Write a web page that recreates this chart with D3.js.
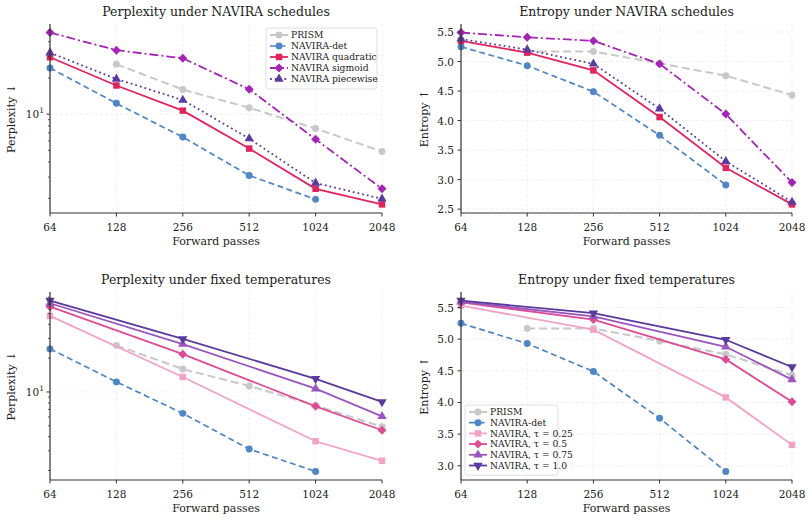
<!DOCTYPE html>
<html>
<head>
<meta charset="utf-8">
<script src="https://cdn.jsdelivr.net/npm/d3@7"></script>
<style>
  body { margin: 0; background: #fff; }
  svg { display: block; font-family: "DejaVu Serif", serif; }
</style>
</head>
<body>
<svg id="chart" width="810" height="523"></svg>
<script>
// x positions (forward passes)
const passes = [64, 128, 256, 512, 1024, 2048];
const prismPasses = [128, 256, 512, 1024, 2048];
const detPasses = [64, 128, 256, 512, 1024];
const tempPasses = [64, 256, 1024, 2048];

// NAVIRA schedules
const prismPpl = [26.0, 16.0, 11.3, 7.6, 4.9];
const detPpl = [24.2, 12.3, 6.45, 3.1, 1.96];
const quadPpl = [29.7, 17.3, 10.7, 5.18, 2.40, 1.78];
const sigPpl = [47.6, 34.0, 29.1, 16.1, 6.19, 2.40];
const piecePpl = [32.4, 19.6, 13.1, 6.27, 2.68, 1.98];

const prismEnt = [5.17, 5.17, 4.97, 4.76, 4.43];
const detEnt = [5.25, 4.93, 4.49, 3.75, 2.91];
const quadEnt = [5.35, 5.15, 4.85, 4.06, 3.20, 2.58];
const sigEnt = [5.49, 5.41, 5.35, 4.96, 4.11, 2.95];
const pieceEnt = [5.38, 5.20, 4.96, 4.20, 3.31, 2.62];

// fixed temperatures
const t025Ppl = [47.6, 13.6, 3.64, 2.44];
const t05Ppl = [57.5, 21.7, 7.45, 4.56];
const t075Ppl = [61.7, 26.7, 10.7, 6.07];
const t10Ppl = [65.2, 29.7, 13.1, 8.15];

const t025Ent = [5.53, 5.15, 4.08, 3.33];
const t05Ent = [5.58, 5.31, 4.68, 4.01];
const t075Ent = [5.59, 5.36, 4.88, 4.36];
const t10Ent = [5.61, 5.41, 4.99, 4.56];

const entTicksTop = [2.5, 3.0, 3.5, 4.0, 4.5, 5.0, 5.5];
const entTicksBottom = [3.0, 3.5, 4.0, 4.5, 5.0, 5.5];

// series styles
const S = {
  prism: { name: "PRISM", color: "#c8c8c8", dash: "8,4", shape: "circle", width: 2 },
  det: { name: "NAVIRA-det", color: "#4f86c6", dash: "6,3.5", shape: "circle", width: 1.7 },
  quad: { name: "NAVIRA quadratic", color: "#e0245e", dash: null, shape: "square", width: 1.8 },
  sig: { name: "NAVIRA sigmoid", color: "#a424b6", dash: "9,3,2,3", shape: "diamond", width: 1.8 },
  piece: { name: "NAVIRA piecewise", color: "#5c3b9e", dash: "1.8,3", shape: "triUp", width: 1.8 },
  t025: { name: "NAVIRA, τ = 0.25", color: "#f2a3c6", dash: null, shape: "square", width: 1.8 },
  t05: { name: "NAVIRA, τ = 0.5", color: "#dc4d95", dash: null, shape: "diamond", width: 1.8 },
  t075: { name: "NAVIRA, τ = 0.75", color: "#9b55bf", dash: null, shape: "triUp", width: 1.8 },
  t10: { name: "NAVIRA, τ = 1.0", color: "#5a3a9c", dash: null, shape: "triDown", width: 1.8 }
};

const svg = d3.select("#chart");

function symbolPath(shape) {
  if (shape === "circle") return { d: d3.symbol(d3.symbolCircle, 38)(), rot: 0 };
  if (shape === "square") return { d: d3.symbol(d3.symbolSquare, 42)(), rot: 0 };
  if (shape === "diamond") return { d: d3.symbol(d3.symbolSquare, 40)(), rot: 45 };
  if (shape === "triUp") return { d: d3.symbol(d3.symbolTriangle, 38)(), rot: 0 };
  return { d: d3.symbol(d3.symbolTriangle, 38)(), rot: 180 };
}

function padDomain(vals, log) {
  const f = log ? Math.log10 : (v) => v;
  const lo = f(d3.min(vals)), hi = f(d3.max(vals));
  const p = (hi - lo) * 0.05;
  return log ? [Math.pow(10, lo - p), Math.pow(10, hi + p)] : [lo - p, hi + p];
}

function drawPanel(cfg) {
  const g = svg.append("g");
  const x = d3.scaleLog().base(2).domain([64, 2048]).range([cfg.left, cfg.right]);
  const allVals = cfg.series.flatMap((s) => s.values);
  const y = (cfg.log ? d3.scaleLog() : d3.scaleLinear())
    .domain(padDomain(allVals, cfg.log))
    .range([cfg.bottom, cfg.top]);

  // grid
  const majorY = cfg.log ? [10] : cfg.yTicks;
  g.append("g").selectAll("line.gx").data(passes).enter().append("line")
    .attr("x1", (d) => x(d)).attr("x2", (d) => x(d))
    .attr("y1", cfg.top).attr("y2", cfg.bottom)
    .attr("stroke", "#ebebeb").attr("stroke-width", 0.8).attr("stroke-dasharray", "3,2");
  g.append("g").selectAll("line.gy").data(majorY).enter().append("line")
    .attr("x1", cfg.left).attr("x2", cfg.right)
    .attr("y1", (d) => y(d)).attr("y2", (d) => y(d))
    .attr("stroke", "#ebebeb").attr("stroke-width", 0.8).attr("stroke-dasharray", "3,2");

  // series
  cfg.series.forEach((s) => {
    const st = S[s.key];
    const pts = s.xs.map((xv, i) => [xv, s.values[i]]);
    const line = d3.line().x((d) => x(d[0])).y((d) => y(d[1]));
    g.append("path").attr("d", line(pts))
      .attr("fill", "none").attr("stroke", st.color).attr("stroke-width", st.width)
      .attr("stroke-dasharray", st.dash);
    const sym = symbolPath(st.shape);
    g.append("g").selectAll("path").data(pts).enter().append("path")
      .attr("d", sym.d)
      .attr("transform", (d) => `translate(${x(d[0])},${y(d[1])}) rotate(${sym.rot})`)
      .attr("fill", st.color);
  });

  // axes
  const ax = g.append("g").attr("stroke", "#333").attr("stroke-width", 1.2);
  ax.append("line").attr("x1", cfg.left).attr("x2", cfg.left).attr("y1", cfg.top).attr("y2", cfg.bottom);
  ax.append("line").attr("x1", cfg.left).attr("x2", cfg.right).attr("y1", cfg.bottom).attr("y2", cfg.bottom);

  g.append("g").selectAll("line").data(passes).enter().append("line")
    .attr("x1", (d) => x(d)).attr("x2", (d) => x(d))
    .attr("y1", cfg.bottom).attr("y2", cfg.bottom + 3.5)
    .attr("stroke", "#333").attr("stroke-width", 1);
  g.append("g").selectAll("text").data(passes).enter().append("text")
    .attr("x", (d) => x(d)).attr("y", cfg.bottom + 18)
    .attr("text-anchor", "middle").attr("font-size", 10.5).attr("fill", "#222")
    .text((d) => d);

  if (cfg.log) {
    const [lo, hi] = y.domain();
    const minor = [];
    for (let dec = 1; dec <= 100; dec *= 10) {
      for (let k = 1; k < 10; k++) {
        const v = k * dec;
        if (v >= lo && v <= hi && v !== 10) minor.push(v);
      }
    }
    g.append("g").selectAll("line").data(minor).enter().append("line")
      .attr("x1", cfg.left - 2).attr("x2", cfg.left)
      .attr("y1", (d) => y(d)).attr("y2", (d) => y(d))
      .attr("stroke", "#333").attr("stroke-width", 0.8);
    g.append("line").attr("x1", cfg.left - 3.5).attr("x2", cfg.left)
      .attr("y1", y(10)).attr("y2", y(10)).attr("stroke", "#333").attr("stroke-width", 1);
    const t = g.append("text").attr("x", cfg.left - 6).attr("y", y(10) + 4)
      .attr("text-anchor", "end").attr("font-size", 10.5).attr("fill", "#222");
    t.append("tspan").text("10");
    t.append("tspan").attr("dy", -5).attr("font-size", 7.5).text("1");
  } else {
    g.append("g").selectAll("line").data(cfg.yTicks).enter().append("line")
      .attr("x1", cfg.left - 3.5).attr("x2", cfg.left)
      .attr("y1", (d) => y(d)).attr("y2", (d) => y(d))
      .attr("stroke", "#333").attr("stroke-width", 1);
    g.append("g").selectAll("text").data(cfg.yTicks).enter().append("text")
      .attr("x", cfg.left - 7).attr("y", (d) => y(d) + 4)
      .attr("text-anchor", "end").attr("font-size", 10.5).attr("fill", "#222")
      .text((d) => d.toFixed(1));
  }

  // labels
  g.append("text").attr("x", (cfg.left + cfg.right) / 2).attr("y", cfg.top - 8)
    .attr("text-anchor", "middle").attr("font-size", 12.5).attr("fill", "#222").text(cfg.title);
  g.append("text").attr("x", (cfg.left + cfg.right) / 2).attr("y", cfg.bottom + 32)
    .attr("text-anchor", "middle").attr("font-size", 11).attr("fill", "#222").text("Forward passes");
  g.append("text")
    .attr("transform", `translate(${cfg.yLabelX},${(cfg.top + cfg.bottom) / 2}) rotate(-90)`)
    .attr("text-anchor", "middle").attr("font-size", 11).attr("fill", "#222").text(cfg.yLabel);

  if (cfg.legend) drawLegend(g, cfg.legend, cfg.series.map((s) => s.key));
}

function drawLegend(g, lg, keys) {
  const rowH = lg.rowH;
  const h = keys.length * rowH + 6;
  g.append("rect").attr("x", lg.x).attr("y", lg.y).attr("width", lg.w).attr("height", h)
    .attr("rx", 2.5).attr("fill", "rgba(255,255,255,0.85)").attr("stroke", "#d6d6d6").attr("stroke-width", 0.8);
  keys.forEach((k, i) => {
    const st = S[k];
    const cy = lg.y + 7 + i * rowH;
    g.append("line").attr("x1", lg.x + 4).attr("x2", lg.x + 22).attr("y1", cy).attr("y2", cy)
      .attr("stroke", st.color).attr("stroke-width", st.width).attr("stroke-dasharray", st.dash);
    const sym = symbolPath(st.shape);
    g.append("path").attr("d", sym.d)
      .attr("transform", `translate(${lg.x + 13},${cy}) rotate(${sym.rot})`).attr("fill", st.color);
    g.append("text").attr("x", lg.x + 25).attr("y", cy + 3.3)
      .attr("font-size", 9.2).attr("fill", "#222").text(st.name);
  });
}

drawPanel({
  left: 50, right: 382, top: 24, bottom: 213, log: true,
  title: "Perplexity under NAVIRA schedules", yLabel: "Perplexity ↓", yLabelX: 15,
  series: [
    { key: "prism", xs: prismPasses, values: prismPpl },
    { key: "det", xs: detPasses, values: detPpl },
    { key: "quad", xs: passes, values: quadPpl },
    { key: "sig", xs: passes, values: sigPpl },
    { key: "piece", xs: passes, values: piecePpl }
  ],
  legend: { x: 266, y: 28, w: 111, rowH: 11 }
});

drawPanel({
  left: 461, right: 792, top: 24, bottom: 213, log: false, yTicks: entTicksTop,
  title: "Entropy under NAVIRA schedules", yLabel: "Entropy ↑", yLabelX: 428,
  series: [
    { key: "prism", xs: prismPasses, values: prismEnt },
    { key: "det", xs: detPasses, values: detEnt },
    { key: "quad", xs: passes, values: quadEnt },
    { key: "sig", xs: passes, values: sigEnt },
    { key: "piece", xs: passes, values: pieceEnt }
  ]
});

drawPanel({
  left: 50, right: 382, top: 292, bottom: 480, log: true,
  title: "Perplexity under fixed temperatures", yLabel: "Perplexity ↓", yLabelX: 15,
  series: [
    { key: "prism", xs: prismPasses, values: prismPpl },
    { key: "det", xs: detPasses, values: detPpl },
    { key: "t025", xs: tempPasses, values: t025Ppl },
    { key: "t05", xs: tempPasses, values: t05Ppl },
    { key: "t075", xs: tempPasses, values: t075Ppl },
    { key: "t10", xs: tempPasses, values: t10Ppl }
  ]
});

drawPanel({
  left: 461, right: 792, top: 292, bottom: 480, log: false, yTicks: entTicksBottom,
  title: "Entropy under fixed temperatures", yLabel: "Entropy ↑", yLabelX: 428,
  series: [
    { key: "prism", xs: prismPasses, values: prismEnt },
    { key: "det", xs: detPasses, values: detEnt },
    { key: "t025", xs: tempPasses, values: t025Ent },
    { key: "t05", xs: tempPasses, values: t05Ent },
    { key: "t075", xs: tempPasses, values: t075Ent },
    { key: "t10", xs: tempPasses, values: t10Ent }
  ],
  legend: { x: 465, y: 405, w: 93, rowH: 10.7 }
});
</script>
</body>
</html>
